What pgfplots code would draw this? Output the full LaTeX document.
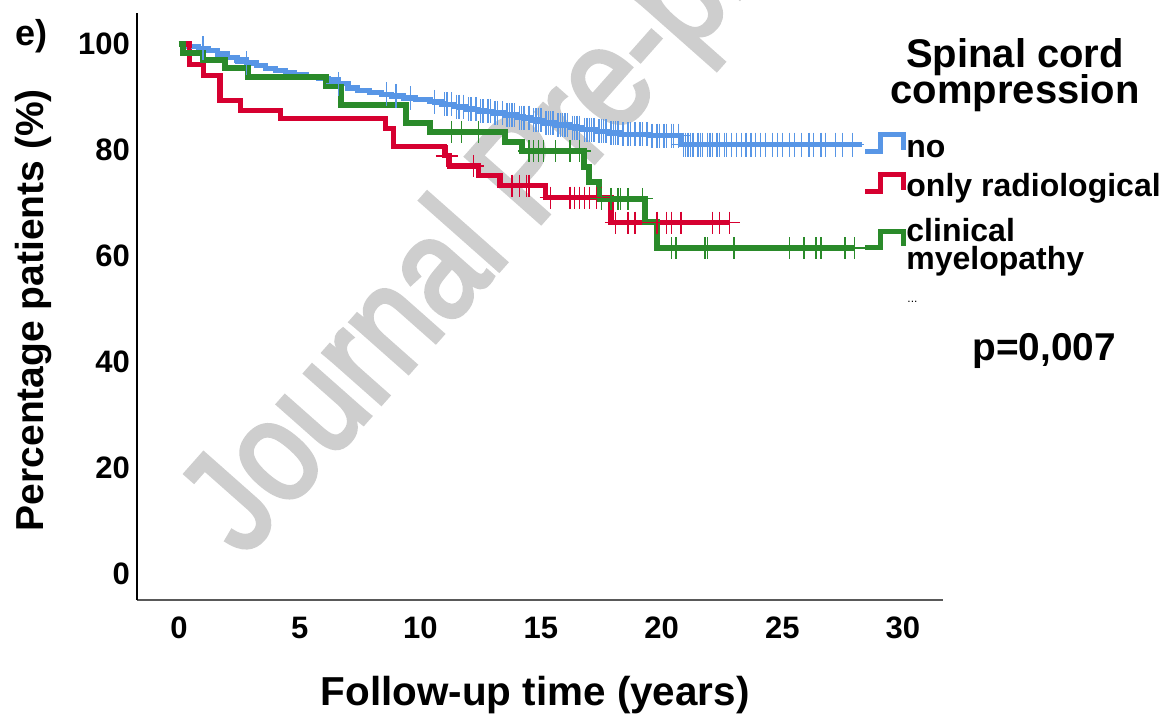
\documentclass[border=0pt]{standalone}
\usepackage{fontspec}
\setmainfont{Liberation Sans}
\newfontfamily\wmfont{Liberation Sans}[FakeBold=3]
\usepackage{pgfplots}
\pgfplotsset{compat=1.18}

\definecolor{kmblue}{RGB}{88,150,230}
\definecolor{kmred}{RGB}{214,0,48}
\definecolor{kmgreen}{RGB}{42,138,42}
\definecolor{wmgray}{RGB}{206,206,206}

\begin{document}
\begin{tikzpicture}
\useasboundingbox (-68.5pt,-59pt) rectangle (514pt,300pt);

% watermark, under the curves
\node[rotate=48.5, anchor=base west, inner sep=0, text=wmgray,
  font=\wmfont\fontsize{72.5}{72.5}\selectfont] at (53.25pt,20.5pt) {\scalebox{0.85}[1]{Journal Pre-proof}};

\begin{axis}[
  scale only axis, width=403pt, height=293.5pt,
  xmin=-1.74, xmax=31.66, ymin=-4.9, ymax=105.85,
  axis x line*=bottom, axis y line*=left,
  x axis line style={-, draw=black!65, line width=1pt},
  y axis line style={-, draw=black, line width=0.7pt},
  xtick={0,5,...,30}, ytick={0,20,...,100},
  major tick length=0pt,
  /pgf/number format/assume math mode=true,
  tick label style={font=\bfseries\fontsize{15.5}{15.5}\selectfont},
  xticklabel style={yshift=-5pt},
  xlabel={Follow-up time (years)},
  ylabel={Percentage patients (\%)},
  xlabel style={font=\bfseries\fontsize{20.2}{20.2}\selectfont,
    at={(axis description cs:0.494,-0.162)}, anchor=center},
  ylabel style={font=\bfseries\fontsize{19.5}{19.5}\selectfont,
    at={(axis description cs:-0.129,0.494)}, anchor=center},
  clip=false,
]
% no compression
\addplot[const plot, kmblue, line width=2.6pt] coordinates {
(0,100)(0.4,99.6)(0.8,99.2)(1.2,98.7)(1.6,98.1)(2.0,97.5)(2.4,97.0)(2.8,96.4)
(3.2,95.9)(3.6,95.4)(4.0,95.0)(4.4,94.6)(4.8,94.2)(5.3,93.9)(5.8,93.5)(6.2,93.2)
(6.6,92.5)(7.0,91.7)(7.4,91.2)(7.9,90.8)(8.4,90.5)(8.8,90.2)(9.3,89.8)(9.8,89.5)
(10.4,89.1)(10.9,88.6)(11.4,88.2)(11.9,87.7)(12.4,87.3)(13.0,87.0)(13.5,86.6)
(14.0,86.1)(14.6,85.6)(15.1,85.1)(15.6,84.7)(16.2,84.2)(16.7,83.8)(17.3,83.5)
(17.8,83.2)(18.3,83.0)(19.5,82.7)(20.8,81.0)(28.3,81.0)};
\addplot[only marks, mark=+, mark size=6pt, kmblue, mark options={line width=0.7pt}] coordinates {
(1.0,99.2)(2.8,96.4)(6.6,92.5)(8.6,90.5)(9.0,90.2)(9.6,89.8)(10.6,89.1)
(11.0,88.6)(11.1,88.6)(11.3,88.6)(11.5,88.2)(11.6,88.2)(11.8,88.2)(12.0,87.7)
(12.1,87.7)(12.3,87.7)(12.5,87.3)(12.6,87.3)(12.8,87.3)(12.9,87.3)(13.1,87.0)
(13.2,87.0)(13.4,87.0)(13.6,86.6)(13.7,86.6)(13.8,86.6)(13.9,86.6)(14.1,86.1)
(14.2,86.1)(14.3,86.1)(14.5,86.1)(14.7,85.6)(14.8,85.6)(14.9,85.6)(15.0,85.6)
(15.2,85.1)(15.3,85.1)(15.4,85.1)(15.5,85.1)(15.7,84.7)(15.8,84.7)(15.9,84.7)
(16.0,84.7)(16.1,84.7)(16.3,84.2)(16.4,84.2)(16.5,84.2)(16.6,84.2)(16.8,83.8)
(16.9,83.8)(17.0,83.8)(17.1,83.8)(17.2,83.8)(17.4,83.5)(17.5,83.5)(17.6,83.5)
(17.7,83.5)(17.9,83.2)(18.0,83.2)(18.1,83.2)(18.2,83.2)(18.4,83.0)(18.6,83.0)
(18.7,83.0)(18.9,83.0)(19.1,83.0)(19.2,83.0)(19.4,83.0)(19.6,82.7)(19.8,82.7)
(19.9,82.7)(20.1,82.7)(20.2,82.7)(20.4,82.7)(20.5,82.7)(20.7,82.7)(20.9,81.0)
(21.0,81.0)(21.1,81.0)(21.2,81.0)(21.3,81.0)(21.5,81.0)(21.6,81.0)(21.7,81.0)
(21.9,81.0)(22.0,81.0)(22.1,81.0)(22.3,81.0)(22.4,81.0)(22.6,81.0)(22.7,81.0)
(22.9,81.0)(23.1,81.0)(23.3,81.0)(23.5,81.0)(23.7,81.0)(23.9,81.0)(24.1,81.0)
(24.3,81.0)(24.6,81.0)(24.8,81.0)(25.0,81.0)(25.3,81.0)(25.5,81.0)(25.8,81.0)
(26.1,81.0)(26.3,81.0)(26.6,81.0)(26.8,81.0)(27.2,81.0)(27.5,81.0)(27.9,81.0)};
% only radiological
\addplot[const plot, kmred, line width=2.6pt] coordinates {
(0,100)(0.45,96.2)(1.0,94.0)(1.7,89.3)(2.55,87.5)(4.2,85.9)(8.55,84.1)(8.9,80.6)
(11.0,78.9)(11.2,77.0)(12.4,75.2)(13.3,73.3)(15.2,71.0)(17.9,66.3)(22.8,66.3)};
\addplot[only marks, mark=+, mark size=5.5pt, kmred, mark options={line width=0.7pt}] coordinates {
(11.1,78.9)(12.2,77.0)(13.8,73.3)(14.1,73.3)(14.4,73.3)(14.5,73.3)(15.4,71.0)
(16.2,71.0)(16.4,71.0)(16.6,71.0)(16.8,71.0)(17.0,71.0)(17.3,71.0)(17.5,71.0)
(18.1,66.3)(18.6,66.3)(18.9,66.3)(19.8,66.3)(20.2,66.3)(20.4,66.3)(20.8,66.3)
(22.1,66.3)(22.4,66.3)(22.8,66.3)};
% clinical myelopathy
\addplot[const plot, kmgreen, line width=3pt] coordinates {
(0,100)(0.15,98.3)(1.0,97.0)(1.9,95.5)(2.85,93.8)(6.1,92.1)(6.7,88.5)(9.4,85.1)
(10.4,83.4)(13.5,81.6)(14.2,79.8)(16.8,76.8)(17.0,74.0)(17.4,70.8)(19.3,66.4)
(19.8,61.5)(28.0,61.5)};
\addplot[only marks, mark=+, mark size=5.5pt, kmgreen, mark options={line width=0.7pt}] coordinates {
(11.3,83.4)(11.7,83.4)(12.4,83.4)(14.5,79.8)(14.7,79.8)(14.9,79.8)(15.1,79.8)
(15.6,79.8)(16.2,79.8)(16.6,79.8)(17.5,70.8)(17.9,70.8)(18.2,70.8)(18.3,70.8)
(18.6,70.8)(19.2,70.8)(20.4,61.5)(20.6,61.5)(21.8,61.5)(21.9,61.5)(23.0,61.5)
(25.3,61.5)(25.9,61.5)(26.4,61.5)(26.6,61.5)(27.6,61.5)(28.0,61.5)};
\end{axis}

% panel letter
\node[anchor=base west, inner sep=0, font=\bfseries\fontsize{18}{18}\selectfont] at (-61pt,277pt) {e)};

% legend
\node[anchor=base, inner sep=0, font=\bfseries\fontsize{20}{20}\selectfont] at (439pt,266pt) {Spinal cord};
\node[anchor=base, inner sep=0, font=\bfseries\fontsize{20}{20}\selectfont] at (439pt,248pt) {compression};
\draw[kmblue, line width=2.5pt] (364pt,224pt) -- (371.5pt,224pt) -- (371.5pt,232.5pt) -- (383pt,232.5pt) -- (383pt,225pt);
\draw[kmred, line width=2.5pt] (364pt,204pt) -- (371.5pt,204pt) -- (371.5pt,212.5pt) -- (383pt,212.5pt) -- (383pt,205pt);
\draw[kmgreen, line width=2.5pt] (364pt,176pt) -- (371.5pt,176pt) -- (371.5pt,184pt) -- (383pt,184pt) -- (383pt,177pt);
\begin{scope}[every node/.style={anchor=base west, inner sep=0, font=\bfseries\fontsize{16}{16}\selectfont}]
\node at (384.5pt,221pt) {no};
\node at (384.5pt,201.5pt) {only radiological};
\node at (384.5pt,179pt) {clinical};
\node at (384.5pt,165pt) {myelopathy};
\end{scope}
\node[anchor=base west, inner sep=0, font=\fontsize{6}{6}\selectfont] at (385pt,148.5pt) {...};
\node[anchor=base west, inner sep=0, font=\bfseries\fontsize{19.4}{19.4}\selectfont] at (417.5pt,120pt) {p=0,007};
\end{tikzpicture}
\end{document}
